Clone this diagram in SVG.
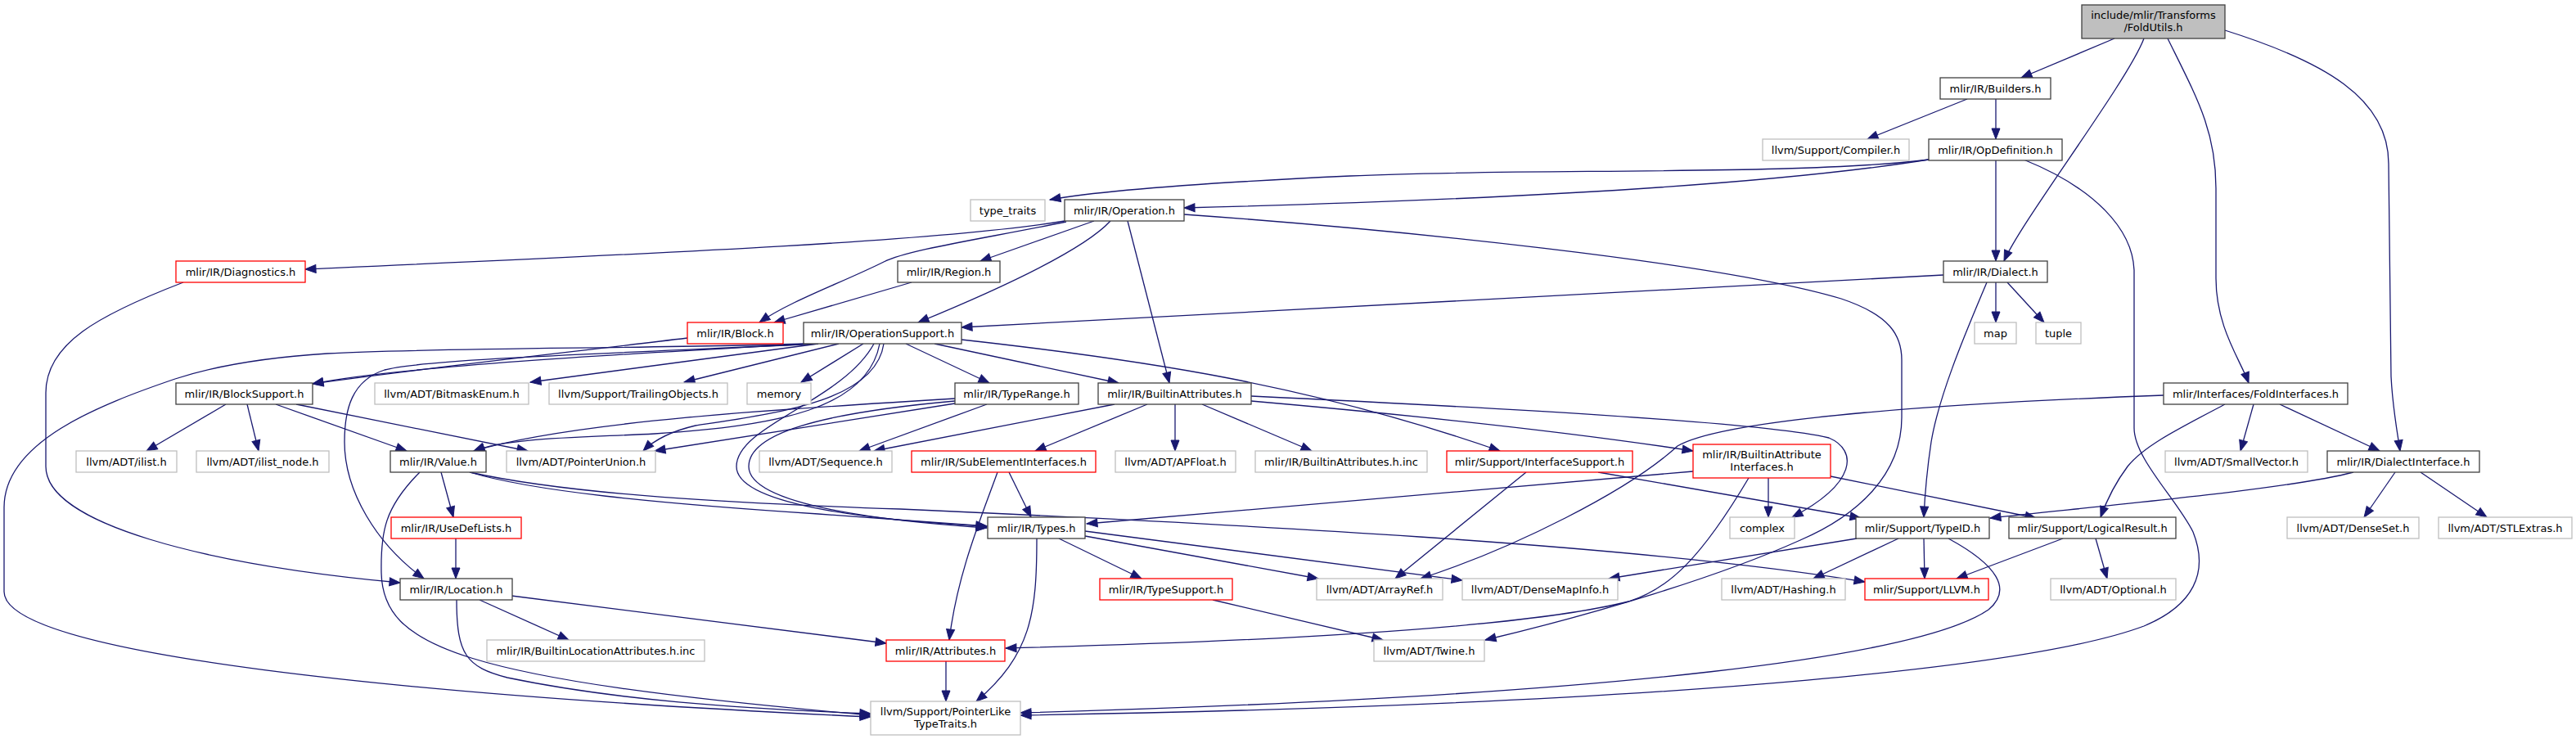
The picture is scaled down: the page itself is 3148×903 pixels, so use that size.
<svg xmlns="http://www.w3.org/2000/svg" width="3148" height="903" viewBox="0 0 3148 903">
<style>
.nd rect{stroke-width:1.3}
.b rect{fill:#fff;stroke:#404040}
.g rect{fill:#fff;stroke:#bfbfbf}
.r rect{fill:#fff;stroke:#ff0000}
.root rect{fill:#bfbfbf;stroke:#404040}
text{font-family:"DejaVu Sans","Liberation Sans",sans-serif;font-size:13px;text-anchor:middle;fill:#000}
#edges path{fill:none;stroke:#191970;stroke-width:1.3;marker-end:url(#a)}
</style>
<defs>
<marker id="a" markerUnits="userSpaceOnUse" markerWidth="16" markerHeight="12" refX="13" refY="5" orient="auto" overflow="visible">
<path d="M0,0 L13,5 L0,10 Z" fill="#191970" stroke="#191970" stroke-width="1"/>
</marker>
</defs>
<rect width="3148" height="903" fill="#fff"/>
<g id="edges">
<path d="M2584,47 L2470,95"/>
<path d="M2620,47 C2600,100 2470,270 2449,319"/>
<path d="M2649,47 C2685,120 2708,160 2708,230 L2708,340 C2708,400 2738,440 2748,468"/>
<path d="M2719,37 C2840,75 2919,120 2919,200 L2922,460 C2924,500 2930,530 2933,551"/>
<path d="M2404,121 L2282,170"/>
<path d="M2439,121 L2439,170"/>
<path d="M2357,195 C2200,215 1850,205 1650,215 C1500,222 1350,232 1283,244"/>
<path d="M2357,195 C2150,228 1800,245 1447,254"/>
<path d="M2439,195 L2439,319"/>
<path d="M2473,195 C2560,230 2606,280 2608,330 L2608,523 C2608,560 2660,610 2680,650 C2700,700 2680,740 2620,765 C2500,810 2100,860 1247,874"/>
<path d="M1301,270 C1150,295 800,310 373,329"/>
<path d="M1303,271 C1200,292 1110,305 1080,320 C1030,345 965,368 928,394"/>
<path d="M1337,270 L1198,319"/>
<path d="M1357,270 C1320,310 1200,362 1122,394"/>
<path d="M1378,270 L1429,468"/>
<path d="M1447,262 C1700,280 2100,320 2250,365 C2310,385 2324,410 2324,440 L2324,510 C2324,580 2270,630 2200,660 C2100,705 1950,750 1815,782"/>
<path d="M224,345 C120,385 56,420 56,480 L56,570 C56,640 250,690 489,712"/>
<path d="M2375,336 L1175,400"/>
<path d="M2439,345 L2439,394"/>
<path d="M2453,345 L2498,394"/>
<path d="M2428,345 C2405,400 2370,480 2360,540 C2354,580 2352,610 2351,632"/>
<path d="M1114,345 L946,394"/>
<path d="M840,413 C700,430 500,452 382,469"/>
<path d="M990,420 C850,428 500,445 382,469"/>
<path d="M985,420 C800,426 520,425 400,432 C320,437 260,448 214,463 C120,495 5,540 5,620 L5,723 C5,800 500,850 1064,876"/>
<path d="M1000,420 C800,430 520,438 470,452 C430,465 421,500 421,540 C421,600 460,665 518,707"/>
<path d="M1000,420 L648,467"/>
<path d="M1025,420 L836,467"/>
<path d="M1055,420 L979,467"/>
<path d="M1107,420 L1209,468"/>
<path d="M1142,420 L1367,468"/>
<path d="M1175,415 C1400,440 1600,470 1833,551"/>
<path d="M1075,420 C1060,500 950,520 800,530 C700,535 620,535 579,551"/>
<path d="M1080,420 C1070,490 950,505 850,520 C820,527 800,537 786,551"/>
<path d="M1068,420 C1030,490 900,520 900,570 C900,615 1050,635 1206,643"/>
<path d="M1167,487 C950,500 700,515 579,551"/>
<path d="M1167,493 L800,551"/>
<path d="M1206,494 L1050,551"/>
<path d="M1167,490 C1000,505 915,530 915,570 C915,620 1100,638 1206,645"/>
<path d="M276,494 L179,551"/>
<path d="M302,494 L316,551"/>
<path d="M337,494 L497,551"/>
<path d="M362,494 L645,551"/>
<path d="M1362,494 L1068,551"/>
<path d="M1402,494 L1265,551"/>
<path d="M1436,494 L1436,551"/>
<path d="M1469,494 L1603,551"/>
<path d="M1529,490 C1700,505 1900,525 2069,551"/>
<path d="M1529,484 C1800,497 2150,515 2235,535 C2270,550 2270,590 2190,632"/>
<path d="M574,577 C650,600 800,615 1000,628 L1206,643"/>
<path d="M574,577 C700,605 900,615 1100,622 C1500,640 2000,665 2279,711"/>
<path d="M539,577 L554,632"/>
<path d="M513,577 C470,620 465,650 466,700 C468,790 560,830 1064,874"/>
<path d="M557,658 L557,707"/>
<path d="M586,733 L695,782"/>
<path d="M625,728 L1083,786"/>
<path d="M558,733 C558,800 570,815 620,828 C750,855 900,866 1064,872"/>
<path d="M1233,577 L1260,632"/>
<path d="M1219,577 C1200,630 1170,700 1160,782"/>
<path d="M1294,658 L1395,707"/>
<path d="M1267,658 C1267,750 1260,800 1193,857"/>
<path d="M1326,655 L1611,707"/>
<path d="M1326,649 L1787,709"/>
<path d="M2069,576 L1328,640"/>
<path d="M1482,733 L1690,782"/>
<path d="M1156,808 L1156,857"/>
<path d="M1865,577 L1705,707"/>
<path d="M1953,577 L2274,633"/>
<path d="M2161,584 L2161,632"/>
<path d="M2237,582 L2488,633"/>
<path d="M2137,584 C2080,680 2040,720 1990,735 C1850,770 1500,785 1229,792"/>
<path d="M2644,483 C2400,492 2110,510 2050,545 C1990,600 1850,670 1736,707"/>
<path d="M2754,494 L2738,551"/>
<path d="M2786,494 L2908,551"/>
<path d="M2719,494 C2660,525 2620,545 2600,570 C2585,590 2575,610 2567,632"/>
<path d="M2876,577 C2800,597 2600,615 2432,633"/>
<path d="M2927,577 L2889,632"/>
<path d="M2958,577 L3039,632"/>
<path d="M2351,658 L2352,707"/>
<path d="M2320,658 L2216,707"/>
<path d="M2269,658 L1966,707"/>
<path d="M2381,658 C2440,690 2460,720 2430,745 C2350,800 2000,850 1247,871"/>
<path d="M2521,658 L2391,707"/>
<path d="M2561,658 L2575,707"/>
</g>
<g id="n0" class="nd root"><rect x="2544" y="6" width="175" height="41"/><text x="2631.5" y="23">include/mlir/Transforms</text><text x="2631.5" y="38">/FoldUtils.h</text></g>
<g id="n1" class="nd b"><rect x="2371" y="95" width="135" height="26"/><text x="2438.5" y="112.5">mlir/IR/Builders.h</text></g>
<g id="n2" class="nd g"><rect x="2154" y="170" width="179" height="26"/><text x="2243.5" y="187.5">llvm/Support/Compiler.h</text></g>
<g id="n3" class="nd b"><rect x="2357" y="170" width="163" height="26"/><text x="2438.5" y="187.5">mlir/IR/OpDefinition.h</text></g>
<g id="n4" class="nd g"><rect x="1186" y="244" width="91" height="26"/><text x="1231.5" y="261.5">type_traits</text></g>
<g id="n5" class="nd b"><rect x="1301" y="244" width="146" height="26"/><text x="1374" y="261.5">mlir/IR/Operation.h</text></g>
<g id="n6" class="nd r"><rect x="215" y="319" width="158" height="26"/><text x="294" y="336.5">mlir/IR/Diagnostics.h</text></g>
<g id="n7" class="nd b"><rect x="1097" y="319" width="125" height="26"/><text x="1159.5" y="336.5">mlir/IR/Region.h</text></g>
<g id="n8" class="nd b"><rect x="2375" y="319" width="127" height="26"/><text x="2438.5" y="336.5">mlir/IR/Dialect.h</text></g>
<g id="n9" class="nd r"><rect x="840" y="394" width="117" height="26"/><text x="898.5" y="411.5">mlir/IR/Block.h</text></g>
<g id="n10" class="nd b"><rect x="982" y="394" width="193" height="26"/><text x="1078.5" y="411.5">mlir/IR/OperationSupport.h</text></g>
<g id="n11" class="nd g"><rect x="2413" y="394" width="51" height="26"/><text x="2438.5" y="411.5">map</text></g>
<g id="n12" class="nd g"><rect x="2488" y="394" width="55" height="26"/><text x="2515.5" y="411.5">tuple</text></g>
<g id="n13" class="nd b"><rect x="215" y="468" width="167" height="26"/><text x="298.5" y="485.5">mlir/IR/BlockSupport.h</text></g>
<g id="n14" class="nd g"><rect x="458" y="468" width="188" height="26"/><text x="552" y="485.5">llvm/ADT/BitmaskEnum.h</text></g>
<g id="n15" class="nd g"><rect x="671" y="468" width="218" height="26"/><text x="780" y="485.5">llvm/Support/TrailingObjects.h</text></g>
<g id="n16" class="nd g"><rect x="913" y="468" width="78" height="26"/><text x="952" y="485.5">memory</text></g>
<g id="n17" class="nd b"><rect x="1167" y="468" width="151" height="26"/><text x="1242.5" y="485.5">mlir/IR/TypeRange.h</text></g>
<g id="n18" class="nd b"><rect x="1342" y="468" width="187" height="26"/><text x="1435.5" y="485.5">mlir/IR/BuiltinAttributes.h</text></g>
<g id="n19" class="nd b"><rect x="2644" y="468" width="225" height="26"/><text x="2756.5" y="485.5">mlir/Interfaces/FoldInterfaces.h</text></g>
<g id="n20" class="nd g"><rect x="93" y="551" width="123" height="26"/><text x="154.5" y="568.5">llvm/ADT/ilist.h</text></g>
<g id="n21" class="nd g"><rect x="240" y="551" width="162" height="26"/><text x="321" y="568.5">llvm/ADT/ilist_node.h</text></g>
<g id="n22" class="nd b"><rect x="477" y="551" width="117" height="26"/><text x="535.5" y="568.5">mlir/IR/Value.h</text></g>
<g id="n23" class="nd g"><rect x="619" y="551" width="182" height="26"/><text x="710" y="568.5">llvm/ADT/PointerUnion.h</text></g>
<g id="n24" class="nd g"><rect x="928" y="551" width="162" height="26"/><text x="1009" y="568.5">llvm/ADT/Sequence.h</text></g>
<g id="n25" class="nd r"><rect x="1114" y="551" width="225" height="26"/><text x="1226.5" y="568.5">mlir/IR/SubElementInterfaces.h</text></g>
<g id="n26" class="nd g"><rect x="1363" y="551" width="147" height="26"/><text x="1436.5" y="568.5">llvm/ADT/APFloat.h</text></g>
<g id="n27" class="nd g"><rect x="1534" y="551" width="210" height="26"/><text x="1639" y="568.5">mlir/IR/BuiltinAttributes.h.inc</text></g>
<g id="n28" class="nd r"><rect x="1768" y="551" width="227" height="26"/><text x="1881.5" y="568.5">mlir/Support/InterfaceSupport.h</text></g>
<g id="n29" class="nd r"><rect x="2069" y="543" width="168" height="41"/><text x="2153" y="560">mlir/IR/BuiltinAttribute</text><text x="2153" y="575">Interfaces.h</text></g>
<g id="n30" class="nd g"><rect x="2646" y="551" width="174" height="26"/><text x="2733" y="568.5">llvm/ADT/SmallVector.h</text></g>
<g id="n31" class="nd b"><rect x="2844" y="551" width="186" height="26"/><text x="2937" y="568.5">mlir/IR/DialectInterface.h</text></g>
<g id="n32" class="nd r"><rect x="478" y="632" width="159" height="26"/><text x="557.5" y="649.5">mlir/IR/UseDefLists.h</text></g>
<g id="n33" class="nd b"><rect x="1207" y="632" width="119" height="26"/><text x="1266.5" y="649.5">mlir/IR/Types.h</text></g>
<g id="n34" class="nd g"><rect x="2114" y="632" width="79" height="26"/><text x="2153.5" y="649.5">complex</text></g>
<g id="n35" class="nd b"><rect x="2268" y="632" width="163" height="26"/><text x="2349.5" y="649.5">mlir/Support/TypeID.h</text></g>
<g id="n36" class="nd b"><rect x="2455" y="632" width="204" height="26"/><text x="2557" y="649.5">mlir/Support/LogicalResult.h</text></g>
<g id="n37" class="nd g"><rect x="2795" y="632" width="161" height="26"/><text x="2875.5" y="649.5">llvm/ADT/DenseSet.h</text></g>
<g id="n38" class="nd g"><rect x="2980" y="632" width="163" height="26"/><text x="3061.5" y="649.5">llvm/ADT/STLExtras.h</text></g>
<g id="n39" class="nd b"><rect x="489" y="707" width="137" height="26"/><text x="557.5" y="724.5">mlir/IR/Location.h</text></g>
<g id="n40" class="nd r"><rect x="1344" y="707" width="162" height="26"/><text x="1425" y="724.5">mlir/IR/TypeSupport.h</text></g>
<g id="n41" class="nd g"><rect x="1609" y="707" width="154" height="26"/><text x="1686" y="724.5">llvm/ADT/ArrayRef.h</text></g>
<g id="n42" class="nd g"><rect x="1787" y="707" width="190" height="26"/><text x="1882" y="724.5">llvm/ADT/DenseMapInfo.h</text></g>
<g id="n43" class="nd g"><rect x="2104" y="707" width="151" height="26"/><text x="2179.5" y="724.5">llvm/ADT/Hashing.h</text></g>
<g id="n44" class="nd r"><rect x="2279" y="707" width="151" height="26"/><text x="2354.5" y="724.5">mlir/Support/LLVM.h</text></g>
<g id="n45" class="nd g"><rect x="2506" y="707" width="153" height="26"/><text x="2582.5" y="724.5">llvm/ADT/Optional.h</text></g>
<g id="n46" class="nd g"><rect x="595" y="782" width="266" height="26"/><text x="728" y="799.5">mlir/IR/BuiltinLocationAttributes.h.inc</text></g>
<g id="n47" class="nd r"><rect x="1083" y="782" width="145" height="26"/><text x="1155.5" y="799.5">mlir/IR/Attributes.h</text></g>
<g id="n48" class="nd g"><rect x="1679" y="782" width="135" height="26"/><text x="1746.5" y="799.5">llvm/ADT/Twine.h</text></g>
<g id="n49" class="nd g"><rect x="1064" y="857" width="183" height="41"/><text x="1155.5" y="874">llvm/Support/PointerLike</text><text x="1155.5" y="889">TypeTraits.h</text></g>
</svg>
